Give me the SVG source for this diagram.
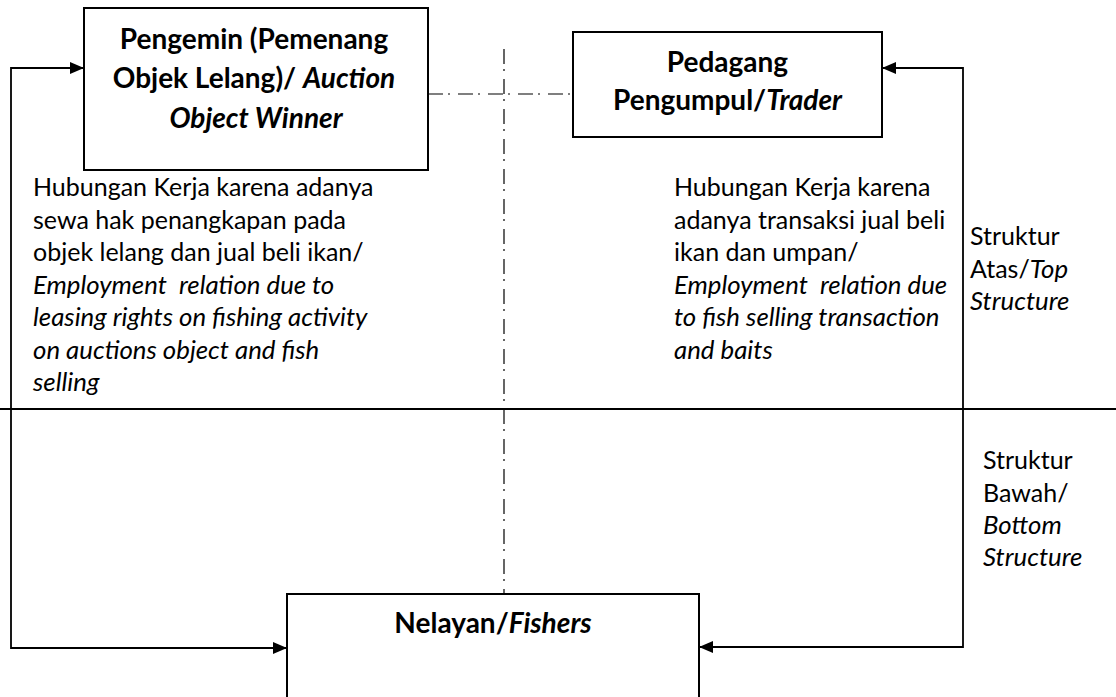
<svg xmlns="http://www.w3.org/2000/svg" width="1116" height="697" viewBox="0 0 1116 697">
<style>
text{font-family:Lato,"Open Sans","Liberation Sans",sans-serif;fill:#000;}
.t{font-size:28px;font-weight:bold;}
.b{font-size:25px;}
.i{font-style:italic;}
.b.i,.b .i{font-size:25.8px;}
.box{fill:#fff;stroke:#000;stroke-width:2;}
.ln{fill:none;stroke:#000;stroke-width:1.8;}
.dd{fill:none;stroke:#000;stroke-width:1.2;stroke-dasharray:15 5 2 8;}
</style>
<defs>
<marker id="arr" viewBox="0 0 14 12" refX="14" refY="6" markerWidth="14" markerHeight="12" markerUnits="userSpaceOnUse" orient="auto">
<path d="M0,0 L14,6 L0,12 Z" fill="#000"/>
</marker>
</defs>
<g id="connectors">
<line class="dd" x1="504" y1="49" x2="504" y2="594"/>
<line class="dd" x1="428" y1="94" x2="573" y2="94"/>
<line class="ln" x1="0" y1="409" x2="1116" y2="409"/>
<polyline class="ln" points="11,409 11,68 84,68" marker-end="url(#arr)"/>
<polyline class="ln" points="11,409 11,648 287,648" marker-end="url(#arr)"/>
<polyline class="ln" points="963,409 963,68 882,68" marker-end="url(#arr)"/>
<polyline class="ln" points="963,409 963,647 699,647" marker-end="url(#arr)"/>
</g>
<g id="node-pengemin">
<rect class="box" x="84" y="8" width="344" height="162"/>
<text class="t" x="254" y="49" text-anchor="middle">Pengemin (Pemenang</text>
<text class="t" x="254" y="88" text-anchor="middle">Objek Lelang)/ <tspan class="i">Auction</tspan></text>
<text class="t i" x="256" y="128" text-anchor="middle">Object Winner</text>
</g>
<g id="node-pedagang">
<rect class="box" x="573" y="32" width="309" height="105"/>
<text class="t" x="727.5" y="72" text-anchor="middle">Pedagang</text>
<text class="t" x="727.5" y="110" text-anchor="middle">Pengumpul/<tspan class="i">Trader</tspan></text>
</g>
<g id="node-nelayan">
<rect class="box" x="287" y="594" width="412" height="120"/>
<text class="t" x="493" y="633" text-anchor="middle">Nelayan/<tspan class="i">Fishers</tspan></text>
</g>
<g id="label-left">
<text class="b" x="33" y="196">Hubungan Kerja karena adanya</text>
<text class="b" x="33" y="228.5">sewa hak penangkapan pada</text>
<text class="b" x="33" y="261">objek lelang dan jual beli ikan/</text>
<text class="b i" x="33" y="293.5" xml:space="preserve">Employment  relation due to</text>
<text class="b i" x="33" y="326">leasing rights on fishing activity</text>
<text class="b i" x="33" y="358.5">on auctions object and fish</text>
<text class="b i" x="33" y="391">selling</text>
</g>
<g id="label-right">
<text class="b" x="674" y="196">Hubungan Kerja karena</text>
<text class="b" x="674" y="228.5">adanya transaksi jual beli</text>
<text class="b" x="674" y="261">ikan dan umpan/</text>
<text class="b i" x="674" y="293.5" xml:space="preserve">Employment  relation due</text>
<text class="b i" x="674" y="326">to fish selling transaction</text>
<text class="b i" x="674" y="358.5">and baits</text>
</g>
<g id="label-top-structure">
<text class="b" x="970" y="245">Struktur</text>
<text class="b" x="970" y="277.5">Atas/<tspan class="i">Top</tspan></text>
<text class="b i" x="970" y="310">Structure</text>
</g>
<g id="label-bottom-structure">
<text class="b" x="983" y="469">Struktur</text>
<text class="b" x="983" y="501.5">Bawah/</text>
<text class="b i" x="983" y="534">Bottom</text>
<text class="b i" x="983" y="566">Structure</text>
</g>
</svg>
